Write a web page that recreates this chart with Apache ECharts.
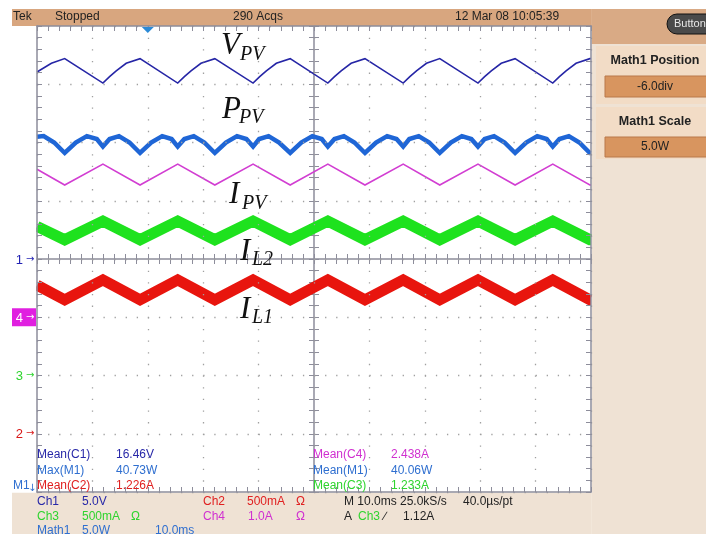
<!DOCTYPE html>
<html>
<head>
<meta charset="utf-8">
<script src="https://cdn.jsdelivr.net/npm/echarts@6/dist/echarts.min.js"></script>
<style>
    html, body { margin: 0; padding: 0; background: #fff; }
    #scope { width: 706px; height: 534px; }
</style>
</head>
<body>
<div id="scope"></div>
<script>
// time in ms from the left edge of the screen (10 ms/div), level in screen divisions from centre
const vpvTrace = [
    [0, 3.21], [2.6, 3.36], [5.0, 3.44],
    [11.9, 3.02], [13.1, 3.13], [14.3, 3.23], [16.1, 3.36], [18.6, 3.44],
    [25.4, 3.02], [26.6, 3.13], [27.8, 3.23], [29.6, 3.36], [32.1, 3.44],
    [39.0, 3.02], [40.2, 3.13], [41.4, 3.23], [43.2, 3.36], [45.7, 3.44],
    [52.5, 3.02], [53.7, 3.13], [54.9, 3.23], [56.7, 3.36], [59.2, 3.44],
    [66.1, 3.02], [67.3, 3.13], [68.5, 3.23], [70.3, 3.36], [72.7, 3.44],
    [79.6, 3.02], [80.8, 3.13], [82.0, 3.23], [83.8, 3.36], [86.3, 3.44],
    [93.1, 3.02], [94.3, 3.13], [95.5, 3.23], [97.3, 3.36], [99.8, 3.44], [100, 3.44]
]
const ppvTrace = [
    [0, 2.10], [1.2, 2.11], [3.1, 2.00], [5.0, 1.82],
    [7.0, 2.00], [9.0, 2.11], [10.8, 2.06], [11.9, 1.93], [13.1, 2.06], [14.8, 2.11], [16.7, 2.00], [18.6, 1.82],
    [20.6, 2.00], [22.6, 2.11], [24.3, 2.06], [25.4, 1.93], [26.6, 2.06], [28.3, 2.11], [30.2, 2.00], [32.1, 1.82],
    [34.1, 2.00], [36.1, 2.11], [37.8, 2.06], [39.0, 1.93], [40.1, 2.06], [41.8, 2.11], [43.7, 2.00], [45.7, 1.82],
    [47.7, 2.00], [49.7, 2.11], [51.4, 2.06], [52.5, 1.93], [53.7, 2.06], [55.4, 2.11], [57.3, 2.00], [59.2, 1.82],
    [61.2, 2.00], [63.2, 2.11], [64.9, 2.06], [66.1, 1.93], [67.2, 2.06], [68.9, 2.11], [70.8, 2.00], [72.7, 1.82],
    [74.7, 2.00], [76.7, 2.11], [78.4, 2.06], [79.6, 1.93], [80.8, 2.06], [82.5, 2.11], [84.4, 2.00], [86.3, 1.82],
    [88.3, 2.00], [90.3, 2.11], [92.0, 2.06], [93.1, 1.93], [94.3, 2.06], [96.0, 2.11], [97.9, 2.00], [99.8, 1.82], [100, 1.82]
]
const ipvTrace = [
    [0, 1.54], [5.0, 1.27], [11.9, 1.63], [18.6, 1.27], [25.4, 1.63], [32.1, 1.27], [39.0, 1.63], [45.7, 1.27],
    [52.5, 1.63], [59.2, 1.27], [66.1, 1.63], [72.7, 1.27], [79.6, 1.63], [86.3, 1.27], [93.1, 1.63], [99.8, 1.27], [100, 1.27]
]
const il2Trace = [
    [0, 0.56], [5.0, 0.33], [11.9, 0.65], [18.6, 0.33], [25.4, 0.65], [32.1, 0.33], [39.0, 0.65], [45.7, 0.33],
    [52.5, 0.65], [59.2, 0.33], [66.1, 0.65], [72.7, 0.33], [79.6, 0.65], [86.3, 0.33], [93.1, 0.65], [99.8, 0.33], [100, 0.33]
]
const il1Trace = [
    [0, -0.45], [5.0, -0.70], [11.9, -0.36], [18.6, -0.70], [25.4, -0.36], [32.1, -0.70], [39.0, -0.36], [45.7, -0.70],
    [52.5, -0.36], [59.2, -0.70], [66.1, -0.36], [72.7, -0.70], [79.6, -0.36], [86.3, -0.70], [93.1, -0.36], [99.8, -0.70], [100, -0.70]
]

// channel ground markers on the left edge: label, level (div), colour
const channelMarkers = [['1', 0, '#2323b4'], ['4', -1, '#ffffff'], ['3', -2, '#2ed42e'], ['2', -3, '#d81818']]
const leftReadouts = [['Mean(C1)', '16.46V', '#2828a8'], ['Max(M1)', '40.73W', '#2f6fd0'], ['Mean(C2)', '1.226A', '#e02020']]
const rightReadouts = [['Mean(C4)', '2.438A', '#d030d0'], ['Mean(M1)', '40.06W', '#2f6fd0'], ['Mean(C3)', '1.233A', '#2ed42e']]

const gridColor = '#8d8d9b'
const dotColor = '#a0a0a0'
const narrow = '"Liberation Sans Narrow", "Liberation Sans", Arial, sans-serif'

function scopeAxis (min, max, interval, position, opts) {
    return Object.assign({
        type: 'value',
        min: min,
        max: max,
        interval: interval,
        position: position,
        axisLine: { show: true, onZero: false, lineStyle: { color: gridColor, width: 1.5 } },
        axisTick: { show: true, inside: true, length: 5, lineStyle: { color: gridColor, width: 1 } },
        minorTick: { show: true, splitNumber: 5, length: 5, lineStyle: { color: gridColor, width: 1 } },
        splitLine: { show: false },
        axisLabel: { show: false }
    }, opts || {})
}

function trace (name, data, color, width) {
    return {
        name: name,
        type: 'line',
        data: data,
        symbol: 'none',
        animation: false,
        lineStyle: { color: color, width: width, join: 'miter' }
    }
}

let chart = echarts.init(document.getElementById('scope'))

chart.setOption({
    backgroundColor: '#ffffff',
    animation: false,
    grid: { left: 37, top: 26, width: 554, height: 466, outerBoundsMode: 'none', containLabel: false },
    xAxis: [
        scopeAxis(0, 100, 10, 'bottom', {
            z: 6,
            splitLine: { show: true, lineStyle: { color: dotColor, width: 1.3, type: [1.3, 10.35] } }
        }),
        scopeAxis(0, 100, 10, 'top', { z: 6 }),
        scopeAxis(-50, 50, 10, 'bottom', {
            axisLine: { show: true, onZero: true, onZeroAxisIndex: 0, lineStyle: { color: gridColor, width: 1.5 } }
        }),
        scopeAxis(-50, 50, 10, 'bottom', {
            axisLine: { show: false, onZero: true, onZeroAxisIndex: 0 },
            axisTick: { show: true, inside: false, length: 5, lineStyle: { color: gridColor, width: 1 } },
            minorTick: { show: true, splitNumber: 5, length: 5, lineStyle: { color: gridColor, width: 1 } }
        })
    ],
    yAxis: [
        scopeAxis(-4, 4, 1, 'left', {
            z: 6,
            splitLine: { show: true, lineStyle: { color: dotColor, width: 1.3, type: [1.3, 9.78] } }
        }),
        scopeAxis(-4, 4, 1, 'right', { z: 6 }),
        scopeAxis(-4, 4, 1, 'left', {
            axisLine: { show: true, onZero: true, onZeroAxisIndex: 2, lineStyle: { color: gridColor, width: 1.5 } }
        }),
        scopeAxis(-4, 4, 1, 'left', {
            axisLine: { show: false, onZero: true, onZeroAxisIndex: 2 },
            axisTick: { show: true, inside: false, length: 5, lineStyle: { color: gridColor, width: 1 } },
            minorTick: { show: true, splitNumber: 5, length: 5, lineStyle: { color: gridColor, width: 1 } }
        })
    ],
    series: [
        trace('VPV', vpvTrace, '#2626a6', 1.6),
        trace('PPV', ppvTrace, '#1f66d6', 4.5),
        trace('IPV', ipvTrace, '#d23ed2', 1.6),
        trace('IL2', il2Trace, '#1ee21e', 11),
        trace('IL1', il1Trace, '#e8150e', 11)
    ]
})

// screen furniture, placed after the scales exist
let g = []
function txt (x, y, text, color, font, align) {
    g.push({
        type: 'text', x: x, y: y, z: 10,
        style: { text: text, fill: color, font: font, textAlign: align || 'left', textVerticalAlign: 'middle', verticalAlign: 'middle' }
    })
}
function box (x, y, w, h, fill, stroke, z) {
    g.push({
        type: 'rect', z: z || 5,
        shape: { x: x, y: y, width: w, height: h },
        style: { fill: fill, stroke: stroke || null, lineWidth: 1 }
    })
}

// white margin left of the screen so thick traces stop at the border
box(0, 26, 36.3, 466, '#ffffff')
// header, side panel, bottom panel
box(12, 9, 694, 17, '#d8a67f')
box(591.8, 9, 114.2, 525, '#efe2d4')
box(591.8, 9, 114.2, 35, '#d9aa85')
box(596, 46, 110, 58, '#f2dcc6')
box(596, 107, 110, 52, '#f2dcc6')
box(605, 76, 110, 21, '#d8955f', '#b9784a', 6)
box(605, 137, 110, 20, '#d8955f', '#b9784a', 6)
box(12, 492.8, 579.8, 42, '#efe2d4')
g.push({
    type: 'rect', z: 6,
    shape: { x: 667, y: 14, width: 50, height: 20, r: 10 },
    style: { fill: '#4a4a4a', stroke: '#111', lineWidth: 1 }
})
txt(674, 24, 'Buttons', '#e8e8e8', '11px ' + narrow)
txt(655, 61, 'Math1 Position', '#222', 'bold 12.5px "Liberation Sans", Arial, sans-serif', 'center')
txt(655, 87, '-6.0div', '#222', '12px ' + narrow, 'center')
txt(655, 122, 'Math1 Scale', '#222', 'bold 12.5px "Liberation Sans", Arial, sans-serif', 'center')
txt(655, 147, '5.0W', '#222', '12px ' + narrow, 'center')

txt(13, 17, 'Tek', '#222', '12px ' + narrow)
txt(55, 17, 'Stopped', '#222', '12px ' + narrow)
txt(233, 17, '290 Acqs', '#222', '12px ' + narrow)
txt(455, 17, '12 Mar 08 10:05:39', '#222', '12px ' + narrow)

// trigger position marker
let trig = chart.convertToPixel({ xAxisIndex: 0, yAxisIndex: 0 }, [20, 4])
g.push({
    type: 'polygon', z: 10,
    shape: { points: [[trig[0] - 6, trig[1] + 1], [trig[0] + 6, trig[1] + 1], [trig[0], trig[1] + 7]] },
    style: { fill: '#2b8ad6' }
})

// channel markers
channelMarkers.forEach(function (m) {
    let p = chart.convertToPixel({ xAxisIndex: 0, yAxisIndex: 0 }, [0, m[1]])
    if (m[0] === '4') {
        box(12, p[1] - 9, 24, 18, '#e020e0', null, 8)
    }
    txt(23, p[1] + 1, m[0], m[2], '13px ' + narrow, 'right')
    txt(26, p[1], '\u2192', m[2], '10px "DejaVu Sans", sans-serif')
})
txt(13, 486, 'M1', '#2f6fd0', '12px ' + narrow)
txt(28, 488, '\u2193', '#2f6fd0', '10px "DejaVu Sans", sans-serif')

// trace names
const serif = 'italic 31px "Liberation Serif", "Times New Roman", serif'
const serifSub = 'italic 20px "Liberation Serif", "Times New Roman", serif'
txt(221, 46, 'V', '#111', serif)
txt(240, 55, 'PV', '#111', serifSub)
txt(222, 110, 'P', '#111', serif)
txt(239, 118, 'PV', '#111', serifSub)
txt(229, 195, 'I', '#111', serif)
txt(242, 204, 'PV', '#111', serifSub)
txt(240, 252, 'I', '#111', serif)
txt(252, 260, 'L2', '#111', serifSub)
txt(240, 310, 'I', '#111', serif)
txt(252, 318, 'L1', '#111', serifSub)

// measurements
const readFont = '12px ' + narrow
leftReadouts.forEach(function (r, i) {
    txt(37, 455 + i * 15.5, r[0], r[2], readFont)
    txt(116, 455 + i * 15.5, r[1], r[2], readFont)
})
rightReadouts.forEach(function (r, i) {
    txt(313, 455 + i * 15.5, r[0], r[2], readFont)
    txt(391, 455 + i * 15.5, r[1], r[2], readFont)
})

// bottom settings panel
txt(37, 502, 'Ch1', '#2828a8', readFont); txt(82, 502, '5.0V', '#2828a8', readFont)
txt(203, 502, 'Ch2', '#e02020', readFont); txt(247, 502, '500mA', '#e02020', readFont); txt(296, 502, '\u03a9', '#e02020', readFont)
txt(37, 517, 'Ch3', '#2ed42e', readFont); txt(82, 517, '500mA', '#2ed42e', readFont); txt(131, 517, '\u03a9', '#2ed42e', readFont)
txt(203, 517, 'Ch4', '#d030d0', readFont); txt(248, 517, '1.0A', '#d030d0', readFont); txt(296, 517, '\u03a9', '#d030d0', readFont)
txt(37, 531, 'Math1', '#2f6fd0', readFont); txt(82, 531, '5.0W', '#2f6fd0', readFont); txt(155, 531, '10.0ms', '#2f6fd0', readFont)
txt(344, 502, 'M 10.0ms 25.0kS/s', '#222', readFont); txt(463, 502, '40.0\u00b5s/pt', '#222', readFont)
txt(344, 517, 'A', '#222', readFont); txt(358, 517, 'Ch3', '#2ed42e', readFont)
txt(384, 517, '\u2215', '#222', readFont); txt(403, 517, '1.12A', '#222', readFont)

chart.setOption({ graphic: g })
</script>
</body>
</html>
